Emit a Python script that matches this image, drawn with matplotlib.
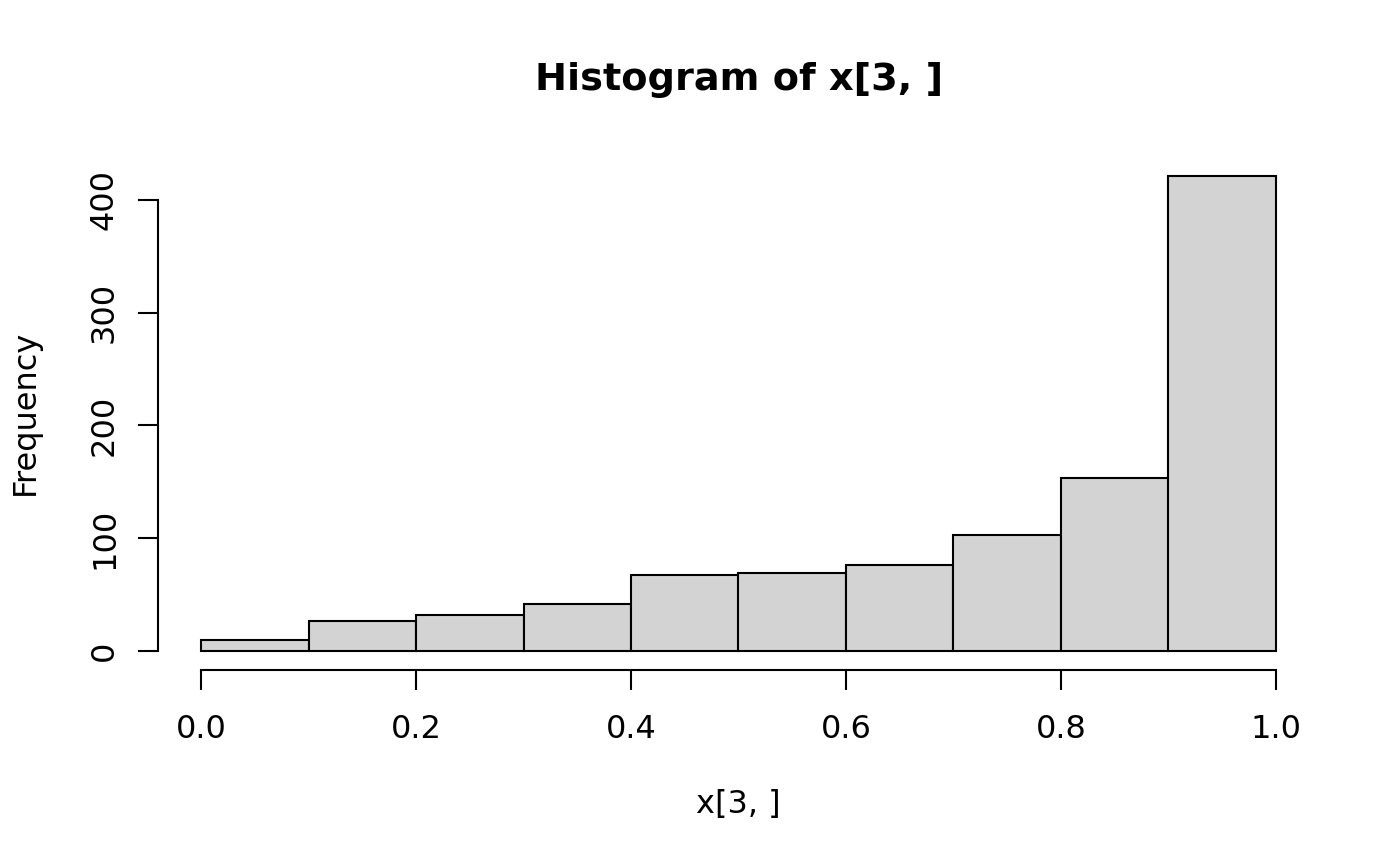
import numpy as np
import matplotlib.pyplot as plt

# bin edges and counts
bin_edges = [0.0, 0.1, 0.2, 0.3, 0.4, 0.5, 0.6, 0.7, 0.8, 0.9, 1.0]
counts = [10, 27, 32, 42, 67, 69, 76, 103, 153, 421]
x_ticks = [0.0, 0.2, 0.4, 0.6, 0.8, 1.0]
x_ticklabels = ['0.0', '0.2', '0.4', '0.6', '0.8', '1.0']
y_ticks = [0, 100, 200, 300, 400]

plt.rcParams['font.family'] = 'DejaVu Sans'

fig = plt.figure(figsize=(14, 8.66), dpi=100)
ax = fig.add_axes([158 / 1400, 1 - 670 / 866, (1319 - 158) / 1400, (670 - 157) / 866])

edges = np.array(bin_edges)
ax.bar(edges[:-1], counts, width=np.diff(edges), align='edge',
       color='#d3d3d3', edgecolor='black', linewidth=1.5)

ax.set_xlim(-0.04, 1.04)
ymax = max(counts)
ax.set_ylim(-0.04 * ymax, 1.04 * ymax)

for s in ['top', 'right']:
    ax.spines[s].set_visible(False)
ax.spines['left'].set_bounds(0, 400)
ax.spines['bottom'].set_bounds(0, 1)
ax.spines['left'].set_linewidth(1.5)
ax.spines['bottom'].set_linewidth(1.5)

ax.set_xticks(x_ticks)
ax.set_xticklabels(x_ticklabels)
ax.set_yticks(y_ticks)
ax.set_yticklabels([str(v) for v in y_ticks], rotation=90, va='center')
ax.tick_params(axis='both', length=14.4, width=1.5, labelsize=23)
ax.tick_params(axis='x', pad=17)
ax.tick_params(axis='y', pad=13)

fig.text(739 / 1400, 1 - 80 / 866, 'Histogram of x[3, ]', ha='center', va='center',
         fontsize=27.5, fontweight='bold')
fig.text(738 / 1400, 1 - 805 / 866, 'x[3, ]', ha='center', va='center', fontsize=23)
fig.text(25 / 1400, 1 - 412 / 866, 'Frequency', ha='center', va='center',
         rotation=90, fontsize=23)

plt.savefig('out.png', dpi=100)
